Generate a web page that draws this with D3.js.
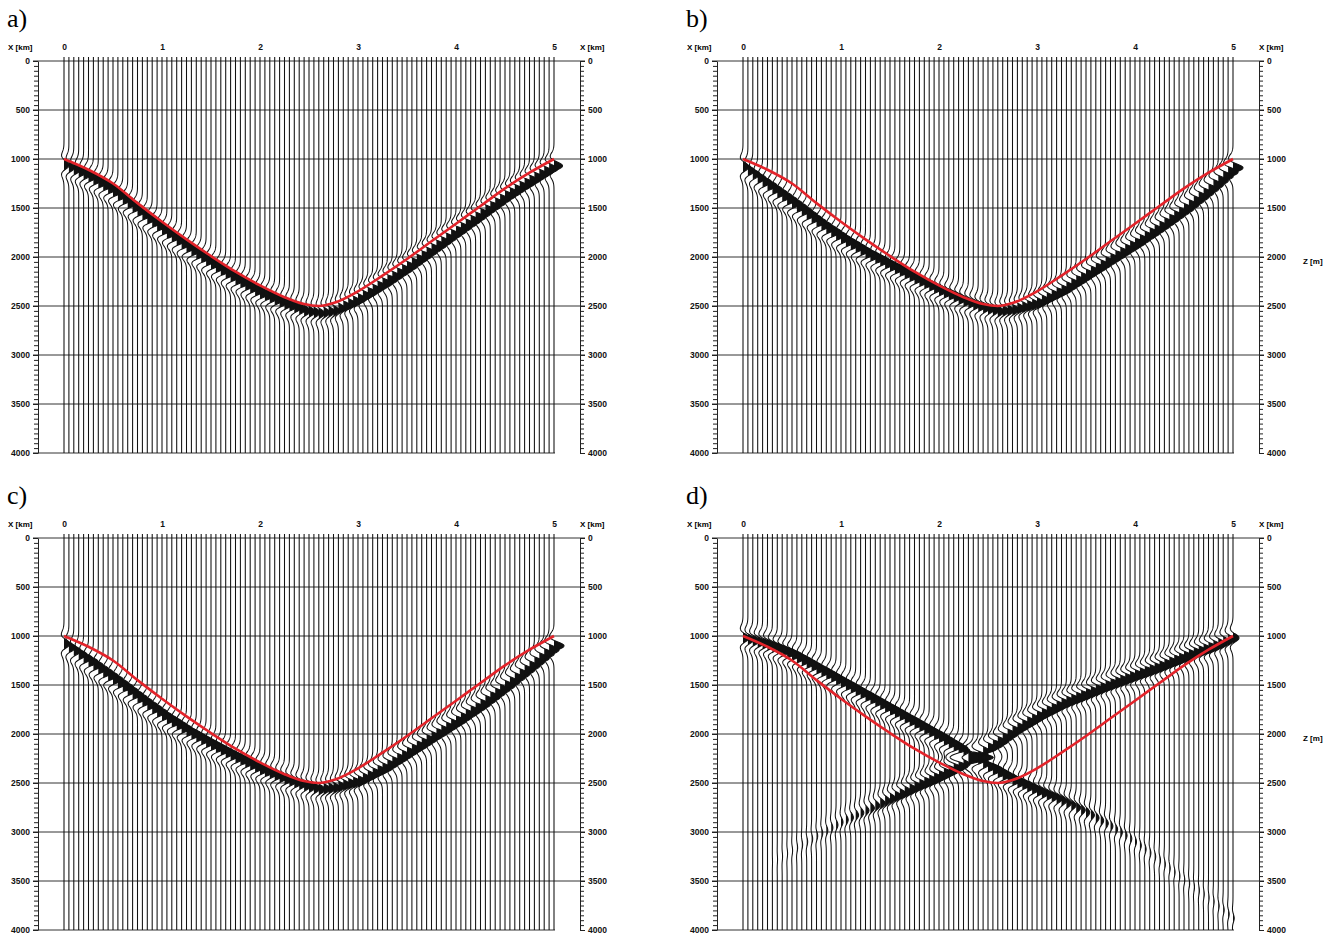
<!DOCTYPE html>
<html>
<head>
<meta charset="utf-8">
<script src="https://cdn.jsdelivr.net/npm/d3@7"></script>
<style>
  body { margin: 0; background: #fff; }
  svg text { font-family: "Liberation Sans", Arial, sans-serif; font-weight: bold; }
</style>
</head>
<body>
<svg id="chart" width="1333" height="936"></svg>
<script>
// picks along the profile (km)
const pickX = [0, 0.25, 0.5, 0.75, 1, 1.25, 1.5, 1.75, 2, 2.25, 2.45, 2.6, 2.75, 3, 3.25, 3.5, 3.75, 4, 4.25, 4.5, 4.75, 5];

// true reflector depth (red line), m
const reflectorZ = [1000, 1110, 1250, 1450, 1640, 1820, 1990, 2150, 2290, 2410, 2480, 2500, 2470, 2350, 2190, 2020, 1840, 1660, 1480, 1300, 1140, 1000];

// imaged event depth (m) and relative amplitude, per panel
const eventA = [1060, 1180, 1330, 1530, 1720, 1900, 2070, 2230, 2370, 2480, 2550, 2575, 2550, 2430, 2270, 2100, 1920, 1740, 1560, 1380, 1220, 1070];
const ampA   = [0.55, 0.9, 1, 1, 1, 1, 1, 1, 0.95, 0.85, 0.7, 0.6, 0.65, 0.85, 1, 1, 1, 1, 1, 1, 1, 0.85];

const eventB = [1080, 1270, 1450, 1640, 1810, 1960, 2090, 2220, 2340, 2450, 2520, 2555, 2540, 2470, 2340, 2180, 2020, 1860, 1690, 1510, 1310, 1090];
const ampB   = [0.6, 0.95, 1, 1, 1, 1, 1, 1, 0.95, 0.85, 0.7, 0.65, 0.7, 0.85, 1, 1, 1, 1, 1, 1, 1, 1];

const eventC = [1080, 1260, 1440, 1630, 1810, 1970, 2110, 2240, 2360, 2460, 2530, 2565, 2550, 2480, 2350, 2190, 2030, 1870, 1700, 1510, 1310, 1100];
const ampC   = [0.6, 0.95, 1, 1, 1, 1, 1, 1, 0.95, 0.85, 0.7, 0.65, 0.7, 0.85, 1, 1, 1, 1, 1, 1, 1, 1];

const eventD1 = [1020, 1090, 1190, 1330, 1470, 1610, 1750, 1890, 2030, 2180, 2300, 2390, 2470, 2580, 2680, 2800, 2940, 3100, 3290, 3490, 3670, 3880];
const ampD1   = [0.6, 0.9, 1, 1, 1, 1, 1, 1, 1, 1, 1, 1, 0.95, 0.8, 0.55, 0.38, 0.24, 0.15, 0.1, 0.08, 0.06, 0.12];

const eventD2 = [3490, 3340, 3190, 3040, 2900, 2780, 2660, 2540, 2430, 2300, 2180, 2080, 1970, 1820, 1690, 1590, 1490, 1400, 1310, 1210, 1120, 1020];
const ampD2   = [0, 0, 0.06, 0.12, 0.2, 0.35, 0.6, 0.85, 1, 1, 1, 1, 1, 1, 1, 1, 1, 1, 1, 1, 0.95, 0.6];

const kmTicks = [0, 1, 2, 3, 4, 5];
const depthTicks = [0, 500, 1000, 1500, 2000, 2500, 3000, 3500, 4000];
const panelLabels = ["a)", "b)", "c)", "d)"];

const traceSpacing = 0.05;   // km
const sigma = 80;            // wavelet width, m
const gain = 10;             // px for unit amplitude

const panels = [
    { label: panelLabels[0], dx: 0,   dy: 0,   zLabel: false, events: [[eventA, ampA]] },
    { label: panelLabels[1], dx: 679, dy: 0,   zLabel: true,  events: [[eventB, ampB]] },
    { label: panelLabels[2], dx: 0,   dy: 477, zLabel: false, events: [[eventC, ampC]] },
    { label: panelLabels[3], dx: 679, dy: 477, zLabel: true,  events: [[eventD1, ampD1], [eventD2, ampD2]] }
];

const svg = d3.select("#chart");
const x = d3.scaleLinear().domain([0, 5]).range([64, 554]);
const y = d3.scaleLinear().domain([0, 4000]).range([61, 453]);

const traces = d3.range(0, 101).map(i => +(i * traceSpacing).toFixed(2));
const zSamples = d3.range(-40, 4001, 5);
const minorTicks = d3.range(0, 4001, 50);

function ricker(a) {
    return (1 - 2 * a * a) * Math.exp(-a * a);
}

function styleAxis(sel) {
    sel.attr("font-family", null).attr("font-size", null);
    sel.selectAll("text").style("font-size", "8.5px").attr("fill", "#111");
    sel.selectAll("line, path").attr("stroke", "#222");
}

panels.forEach(p => {
    const g = svg.append("g").attr("transform", `translate(${p.dx},${p.dy})`);

    g.append("text")
        .attr("x", 7).attr("y", 27)
        .style("font-family", "'Liberation Serif', 'Times New Roman', serif")
        .style("font-weight", "normal")
        .style("font-size", "26px")
        .text(p.label);

    // horizontal grid
    g.append("g").selectAll("line")
        .data(depthTicks)
        .join("line")
        .attr("x1", 33)
        .attr("x2", d => d === 4000 ? 555 : 585)
        .attr("y1", d => y(d)).attr("y2", d => y(d))
        .attr("stroke", "#333").attr("stroke-width", 1);

    // left depth axis
    g.append("g").attr("transform", "translate(38,0)")
        .call(d3.axisLeft(y).tickValues(minorTicks).tickSize(4).tickSizeOuter(0).tickFormat(""))
        .call(styleAxis);
    g.append("g").attr("transform", "translate(38,0)")
        .call(d3.axisLeft(y).tickValues(depthTicks).tickSize(5).tickPadding(3).tickFormat(d3.format("d")))
        .call(s => s.select(".domain").remove())
        .call(styleAxis);

    // right depth axis
    g.append("g").attr("transform", "translate(580,0)")
        .call(d3.axisRight(y).tickValues(minorTicks).tickSize(4).tickSizeOuter(0).tickFormat(""))
        .call(styleAxis);
    g.append("g").attr("transform", "translate(580,0)")
        .call(d3.axisRight(y).tickValues(depthTicks).tickSize(5).tickPadding(3).tickFormat(d3.format("d")))
        .call(s => s.select(".domain").remove())
        .call(styleAxis);

    // top km labels
    g.append("g").attr("transform", "translate(0,57)")
        .call(d3.axisTop(x).tickValues(kmTicks).tickSize(0).tickPadding(7).tickFormat(d3.format("d")))
        .call(s => s.select(".domain").remove())
        .call(styleAxis);

    g.append("text").attr("x", 8).attr("y", 50).style("font-size", "8px").text("X [km]");
    g.append("text").attr("x", 580).attr("y", 50).style("font-size", "8px").text("X [km]");
    if (p.zLabel) {
        g.append("text").attr("x", 624).attr("y", y(2000) + 4).attr("dy", "0.32em")
            .style("font-size", "8px").text("Z [m]");
    }

    // event picks through scales
    const evs = p.events.map(([ev, amp]) => ({
        z: d3.scaleLinear().domain(pickX).range(ev),
        a: d3.scaleLinear().domain(pickX).range(amp)
    }));

    const traceData = traces.map(xk => {
        const centers = evs.map(e => ({ z0: e.z(xk), a: e.a(xk) }));
        const pts = zSamples
            .filter(z => z === -40 || z === 4000 || centers.some(c => Math.abs(z - c.z0) < 4.5 * sigma))
            .map(z => ({
                z: z,
                d: d3.sum(centers, c => c.a * gain * ricker((z - c.z0) / sigma))
            }));
        return { x0: x(xk), pts: pts };
    });

    const fills = g.append("g");
    const lines = g.append("g");

    traceData.forEach(t => {
        fills.append("path")
            .attr("d", d3.area()
                .x0(t.x0)
                .x1(d => t.x0 + Math.max(0, d.d))
                .y(d => y(d.z))(t.pts))
            .attr("fill", "#111");
        lines.append("path")
            .attr("d", d3.line()
                .x(d => t.x0 + d.d)
                .y(d => y(d.z))(t.pts))
            .attr("fill", "none")
            .attr("stroke", "#111")
            .attr("stroke-width", 1.05);
    });

    // true reflector
    g.append("path")
        .datum(pickX.map((xk, i) => [xk, reflectorZ[i]]))
        .attr("d", d3.line().x(d => x(d[0])).y(d => y(d[1])).curve(d3.curveMonotoneX))
        .attr("fill", "none")
        .attr("stroke", "#e3232a")
        .attr("stroke-width", 2.6);
});
</script>
</body>
</html>
